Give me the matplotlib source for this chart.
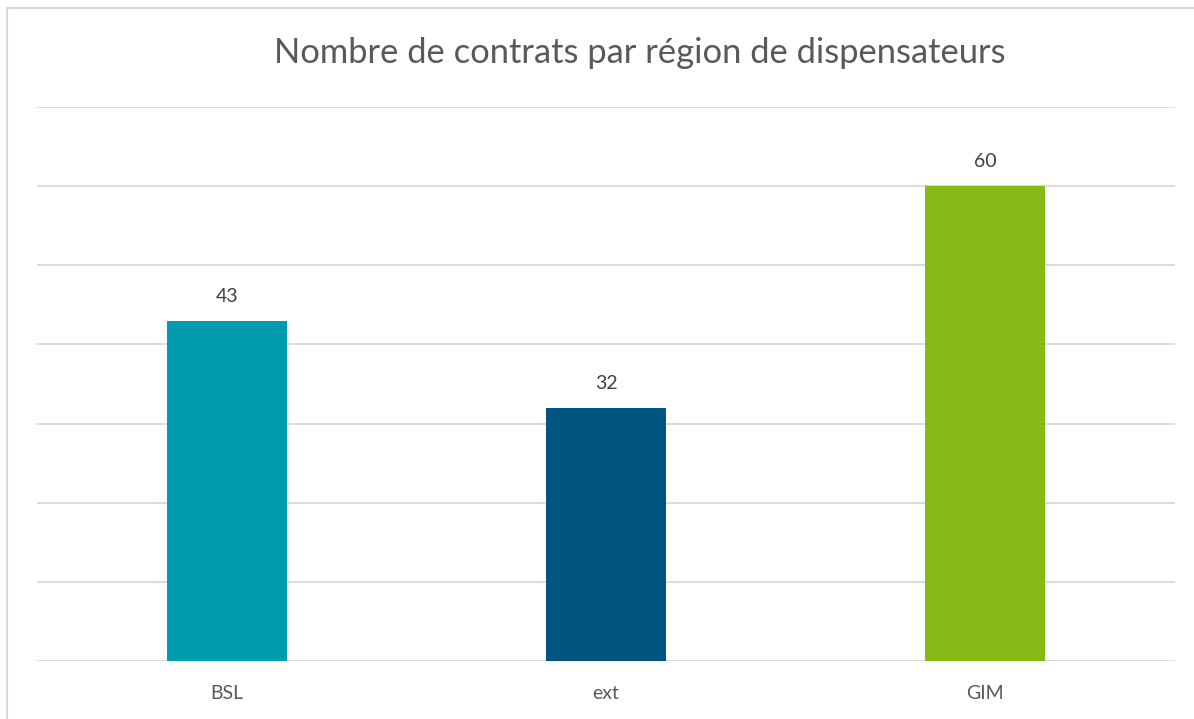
import matplotlib.pyplot as plt
from matplotlib.patches import Rectangle

regions = ['BSL', 'ext', 'GIM']
contrats = [43, 32, 60]
colors = ['#009cad', '#005581', '#86b918']

plt.rcParams['font.family'] = ['Lato', 'DejaVu Sans']

fig = plt.figure(figsize=(11.94, 7.19), dpi=100)
ax = fig.add_axes([37 / 1194, 1 - 661 / 719, (1175 - 37) / 1194, (661 - 107) / 719])

x = range(len(regions))
bars = ax.bar(x, contrats, width=0.317, color=colors, zorder=3)
for b, v in zip(bars, contrats):
    ax.text(b.get_x() + b.get_width() / 2, v + 2.0, str(v), ha='center', va='bottom',
            fontsize=14, color='#404040')

ax.set_xlim(-0.5, 2.5)
ax.set_ylim(0, 70)
ax.set_yticks(range(0, 71, 10))
ax.yaxis.grid(True, color='#d9d9d9', linewidth=1.3, zorder=0)
ax.set_yticklabels([])
ax.tick_params(axis='y', length=0)
ax.set_xticks(list(x))
ax.set_xticklabels(regions, fontsize=14, color='#595959')
ax.tick_params(axis='x', length=0, pad=17)
for s in ax.spines.values():
    s.set_visible(False)

fig.text(640 / 1194, 1 - 53 / 719, 'Nombre de contrats par région de dispensateurs',
         ha='center', va='center', fontsize=24.8, color='#595959')

# outer frame of the chart area
fig.patches.append(Rectangle((7 / 1194, -0.1), 1.2, 1 - 8 / 719 + 0.1, transform=fig.transFigure,
                             fill=False, edgecolor='#d9d9d9', linewidth=1.5))

fig.savefig('out.png', dpi=100)
